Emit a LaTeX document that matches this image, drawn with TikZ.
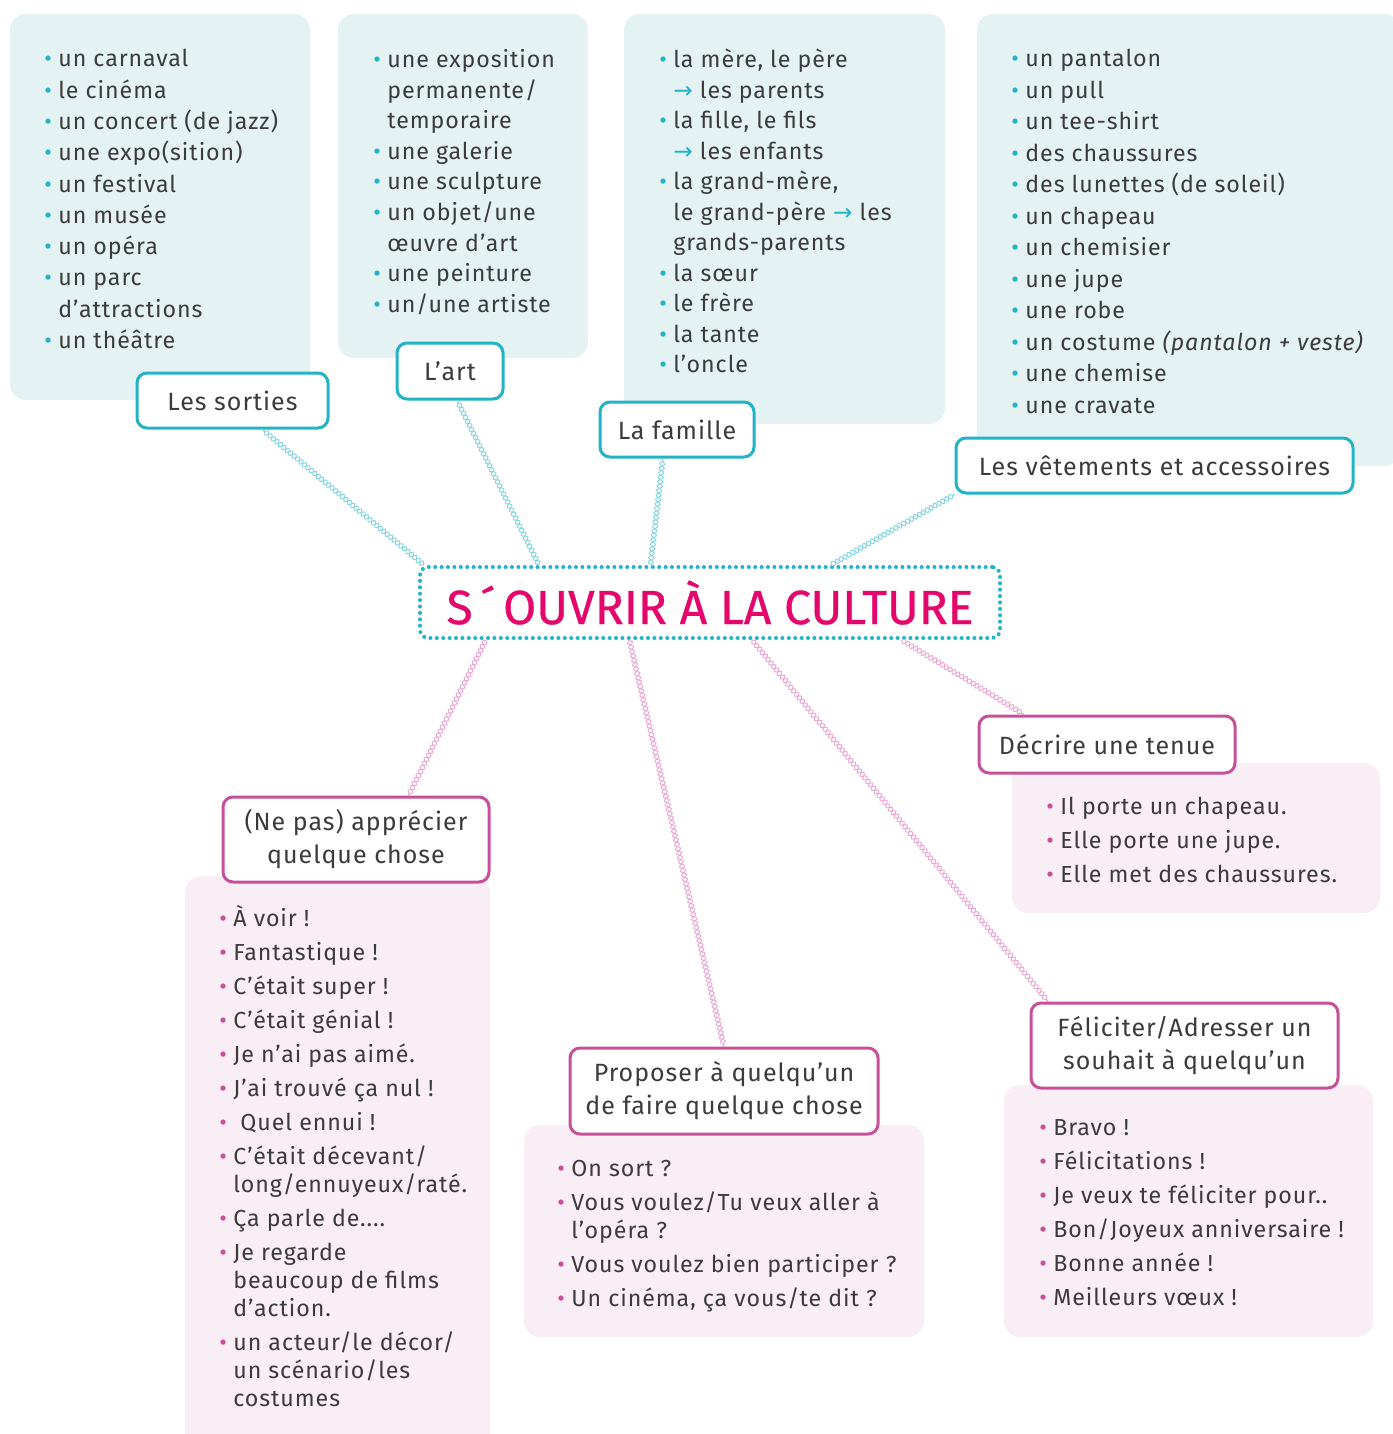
\documentclass[tikz,border=0pt]{standalone}
\usepackage{fontspec}
\setmainfont{Fira Sans}[LetterSpace=4]
\newfontfamily\arrowfont{DejaVu Sans}
\newfontfamily\titlefont[FakeBold=0.6]{Fira Sans}
\usepackage{tikz}
\usetikzlibrary{positioning, calc, decorations.pathmorphing}

\definecolor{cyanc}{HTML}{22B3C6}
\definecolor{ropeblue}{HTML}{86D6E0}
\definecolor{bluefill}{HTML}{E4F2F4}
\definecolor{magc}{HTML}{C8509B}
\definecolor{ropepink}{HTML}{E9A9D4}
\definecolor{pinkfill}{HTML}{F9EEF6}
\definecolor{titlec}{HTML}{E5066B}
\definecolor{textc}{HTML}{3B3B3B}

\newcommand{\bb}{\makebox[7pt][l]{\textcolor{cyanc}{\textbullet}}}
\newcommand{\bp}{\makebox[7pt][l]{\textcolor{magc}{\textbullet}}}
\newcommand{\cont}{\hspace*{7pt}}
\newcommand{\toarrow}{{\arrowfont\textcolor{cyanc}{→}}}

\tikzset{
  bluelabel/.style={draw=cyanc, line width=1.5pt, fill=white, rounded corners=5pt, text=textc, align=center, inner sep=0pt, font=\fontsize{12.5}{16.5}\selectfont},
  pinklabel/.style={bluelabel, draw=magc},
  toplist/.style={anchor=north west, inner sep=0pt, align=left, text=textc, font=\fontsize{11.6}{#1}\selectfont, execute at begin node={\rule{0pt}{9pt}}},
  botlist/.style={toplist=#1},
  rope/.style={
    postaction={draw=#1, line width=0.5pt, decorate, decoration={snake, amplitude=1.3pt, segment length=4.5pt}},
    postaction={draw=#1, line width=0.5pt, decorate, decoration={snake, amplitude=1.3pt, segment length=4.5pt, mirror}}},
  titlebox/.style={draw=cyanc, line width=2pt, dash pattern=on 0pt off 3.2pt, line cap=round, rounded corners=4pt, fill=white, text=titlec, inner sep=0pt, font=\titlefont\fontsize{24}{28}\selectfont}
}

\begin{document}
\begin{tikzpicture}[x=0.5pt, y=-0.5pt]
\useasboundingbox (0,0) rectangle (1392,1434);

% panels
\fill [bluefill, rounded corners=8pt] (10,14) rectangle (310,400);
\fill [bluefill, rounded corners=8pt] (338,14) rectangle (588,358);
\fill [bluefill, rounded corners=8pt] (624,14) rectangle (945,424);
\fill [bluefill, rounded corners=8pt] (977,14) rectangle (1400,466);
\fill [pinkfill, rounded corners=8pt] (1012,763) rectangle (1380,913);
\fill [pinkfill, rounded corners=8pt] (185,876) rectangle (490,1450);
\fill [pinkfill, rounded corners=8pt] (524,1125) rectangle (924,1337);
\fill [pinkfill, rounded corners=8pt] (1004,1085) rectangle (1373,1337);

% word lists
\node [toplist=15.65pt] (sortiesList) at (44,49) {\bb un carnaval\\ \bb le cinéma\\ \bb un concert (de jazz)\\ \bb une expo(sition)\\ \bb un festival\\ \bb un musée\\ \bb un opéra\\ \bb un parc\\ \cont d’attractions\\ \bb un théâtre};
\node [toplist=15.3pt] (artList) at (373,49) {\bb une exposition\\ \cont permanente/\\ \cont temporaire\\ \bb une galerie\\ \bb une sculpture\\ \bb un objet/une\\ \cont œuvre d’art\\ \bb une peinture\\ \bb un/une artiste};
\node [toplist=15.25pt] (familleList) at (659,49) {\bb la mère, le père\\ \cont\toarrow\ les parents\\ \bb la fille, le fils\\ \cont\toarrow\ les enfants\\ \bb la grand-mère,\\ \cont le grand-père \toarrow\ les\\ \cont grands-parents\\ \bb la sœur\\ \bb le frère\\ \bb la tante\\ \bb l’oncle};
\node [toplist=15.75pt] (vetementsList) at (1011,49) {\bb un pantalon\\ \bb un pull\\ \bb un tee-shirt\\ \bb des chaussures\\ \bb des lunettes (de soleil)\\ \bb un chapeau\\ \bb un chemisier\\ \bb une jupe\\ \bb une robe\\ \bb un costume \textit{(pantalon + veste)}\\ \bb une chemise\\ \bb une cravate};

\node [botlist=17pt] (decrireList) at (1046,797) {\bp Il porte un chapeau.\\ \bp Elle porte une jupe.\\ \bp Elle met des chaussures.};
\node [botlist=14pt] (apprecierList) at (219,905) {\bp À voir !\\[3pt] \bp Fantastique !\\[3pt] \bp C’était super !\\[3pt] \bp C’était génial !\\[3pt] \bp Je n’ai pas aimé.\\[3pt] \bp J’ai trouvé ça nul !\\[3pt] \bp\ Quel ennui !\\[3pt] \bp C’était décevant/\\ \cont long/ennuyeux/raté.\\[3pt] \bp Ça parle de....\\[3pt] \bp Je regarde\\ \cont beaucoup de films\\ \cont d’action.\\[3pt] \bp un acteur/le décor/\\ \cont un scénario/les\\ \cont costumes};
\node [botlist=14pt] (proposerList) at (557,1160) {\bp On sort ?\\[3pt] \bp Vous voulez/Tu veux aller à\\ \cont l’opéra ?\\[3pt] \bp Vous voulez bien participer ?\\[3pt] \bp Un cinéma, ça vous/te dit ?};
\node [botlist=17pt] (feliciterList) at (1039,1119) {\bp Bravo !\\ \bp Félicitations !\\ \bp Je veux te féliciter pour..\\ \bp Bon/Joyeux anniversaire !\\ \bp Bonne année !\\ \bp Meilleurs vœux !};

% topic labels
\node [bluelabel, minimum width=95.5pt, minimum height=27.5pt] (sorties) at (232.5,400.5) {Les sorties};
\node [bluelabel, minimum width=53pt, minimum height=28pt] (art) at (450,371) {L’art};
\node [bluelabel, minimum width=77pt, minimum height=27.5pt] (famille) at (677,429.5) {La famille};
\node [bluelabel, minimum width=198.5pt, minimum height=27.5pt] (vetements) at (1154.5,465.5) {Les vêtements et accessoires};
\node [pinklabel, minimum width=128pt, minimum height=28.5pt] (decrire) at (1107,744.5) {Décrire une tenue};
\node [pinklabel, minimum width=133pt, minimum height=42.5pt] (apprecier) at (356,839.5) {(Ne pas) apprécier\\quelque chose};
\node [pinklabel, minimum width=154pt, minimum height=43pt] (proposer) at (724,1091) {Proposer à quelqu’un\\de faire quelque chose};
\node [pinklabel, minimum width=153.5pt, minimum height=42.5pt] (feliciter) at (1184.5,1045.5) {Féliciter/Adresser un\\souhait à quelqu’un};

% centre
\node [titlebox, minimum width=290pt, minimum height=35.5pt] (title) at (710,602.5) {S\,´\,OUVRIR À LA CULTURE};

% connectors
\path [rope=ropeblue] ($(title.north west)!0.01!(title.north east)$) -- ($(sorties.south west)!0.654!(sorties.south east)$);
\path [rope=ropeblue] ($(title.north west)!0.207!(title.north east)$) -- ($(art.south west)!0.566!(art.south east)$);
\path [rope=ropeblue] ($(title.north west)!0.398!(title.north east)$) -- ($(famille.south west)!0.41!(famille.south east)$);
\path [rope=ropeblue] ($(title.north west)!0.707!(title.north east)$) -- (vetements.south west);
\path [rope=ropepink] ($(title.south west)!0.116!(title.south east)$) -- ($(apprecier.north west)!0.695!(apprecier.north east)$);
\path [rope=ropepink] ($(title.south west)!0.362!(title.south east)$) -- (proposer.north);
\path [rope=ropepink] ($(title.south west)!0.572!(title.south east)$) -- ($(feliciter.north west)!0.06!(feliciter.north east)$);
\path [rope=ropepink] ($(title.south west)!0.828!(title.south east)$) -- ($(decrire.north west)!0.18!(decrire.north east)$);

\end{tikzpicture}
\end{document}
